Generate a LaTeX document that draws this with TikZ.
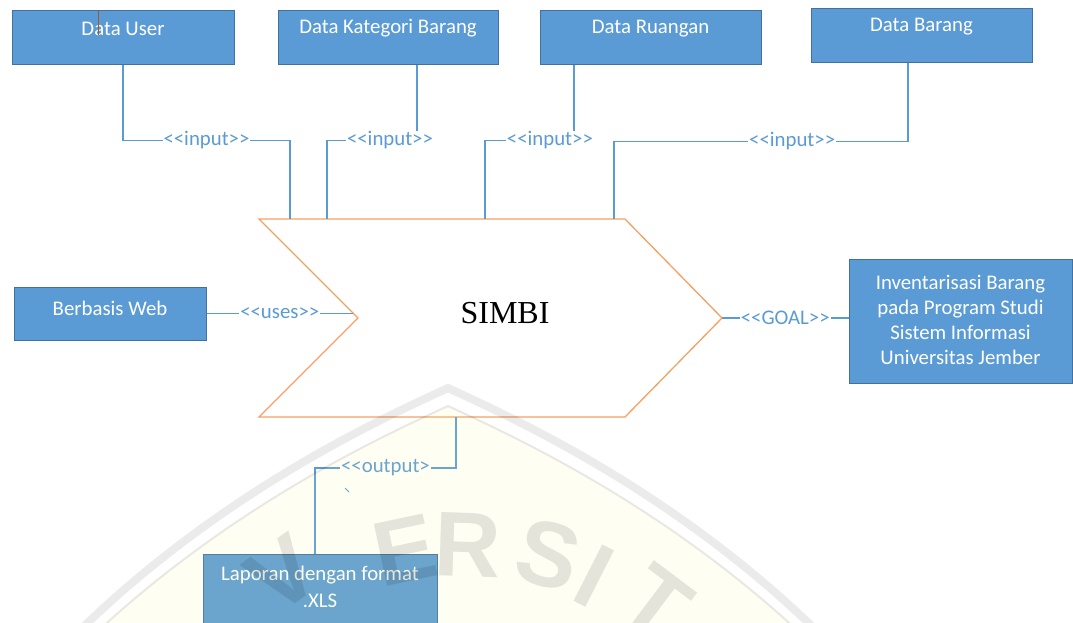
\documentclass[tikz,border=0pt]{standalone}
\usepackage{fontspec}
\setmainfont{Carlito}
\newfontfamily\titlefont{Liberation Serif}
\newfontfamily\markfont{Liberation Sans Bold}
\usetikzlibrary{calc}

\definecolor{boxfill}{HTML}{5B9BD5}
\definecolor{boxline}{HTML}{41719C}
\definecolor{linkblue}{HTML}{5B9BD5}
\definecolor{chevron}{HTML}{F4A163}
\definecolor{cursor}{HTML}{9C5A2E}

\begin{document}
\begin{tikzpicture}[x=1pt,y=-1pt,
  box/.style={draw=boxline, line width=1pt, fill=boxfill, inner sep=0pt},
  boxtext/.style={text=white, font=\fontsize{20.8}{25}\selectfont, align=center, inner sep=0pt},
  conn/.style={draw=linkblue, line width=1.2pt},
  lbl/.style={text=linkblue, fill=white, font=\fontsize{20.8}{24}\selectfont, inner sep=1pt},
  wmletter/.style={text=black, text opacity=0.1, font=\markfont\fontsize{92}{92}\selectfont, inner sep=0pt},
]
\useasboundingbox (0,0) rectangle (1073,622);
\fill[white] (0,0) rectangle (1073,622);

% ---- input boxes along the top ----
\node[box, minimum width=222pt, minimum height=54pt] (du) at (123,37) {};
\node[boxtext] (duT) at ($(du.north)+(0,19)$) {Data User};
\node[box, minimum width=220pt, minimum height=54pt] (dk) at (388,37) {};
\node[boxtext] (dkT) at ($(dk.north)+(0,19)$) {Data Kategori Barang};
\node[box, minimum width=221pt, minimum height=54pt] (dr) at (650.5,37) {};
\node[boxtext] (drT) at ($(dr.north)+(0,19)$) {Data Ruangan};
\node[box, minimum width=221pt, minimum height=54pt] (db) at (921.5,35) {};
\node[boxtext] (dbT) at ($(db.north)+(0,19)$) {Data Barang};

% text cursor left in the first box
\draw[cursor, line width=0.8pt] (98,11) -- (98,35);

% ---- side and bottom boxes ----
\node[box, minimum width=192pt, minimum height=53pt] (bw) at (110,313.5) {};
\node[boxtext] (bwT) at ($(bw.center)+(0,-5)$) {Berbasis Web};
\node[box, minimum width=223pt, minimum height=124pt] (gb) at (960.5,321) {};
\node[boxtext] (gbT) at ($(gb.center)+(0,-1.5)$) {Inventarisasi Barang\\pada Program Studi\\Sistem Informasi\\Universitas Jember};
\node[box, minimum width=234pt, minimum height=92pt] (lp) at (320,600) {};
\node[boxtext, font=\fontsize{20.8}{27}\selectfont] (lpT) at (320,586.5) {Laporan dengan format\\.XLS};

% ---- the SIMBI chevron ----
\coordinate (cTL) at (259,219);
\coordinate (cTR) at (625,219);
\coordinate (tip) at (722,318);
\coordinate (cBR) at (625,417);
\coordinate (cBL) at (259,417);
\coordinate (notch) at (358,318);
\draw[chevron, line width=1.3pt, fill=white] (cTL) -- (cTR) -- (tip) -- (cBR) -- (cBL) -- (notch) -- cycle;
\node[font=\titlefont\fontsize{32}{32}\selectfont, inner sep=0pt] (simbi) at (505,313) {SIMBI};

% connector ends on the chevron
\coordinate (inA) at (290,219);
\coordinate (inB) at (327,219);
\coordinate (inC) at (485,219);
\coordinate (inD) at (614,219);
\coordinate (uEnd) at (353,313.5);
\coordinate (outA) at (456,417);

% ---- connectors ----
\draw[conn] (du.south) -- ++(0,76) -| node[lbl, pos=0.25] {<{}<input>{}>} (inA);
\draw[conn] ($(dk.south)+(29,0)$) -- ++(0,76) -| node[lbl, pos=0.15] {<{}<input>{}>} (inB);
\draw[conn] ($(dr.south)+(-76.5,0)$) -- ++(0,76) -| node[lbl, pos=0.135] {<{}<input>{}>} (inC);
\draw[conn] ($(db.south)+(-13.5,0)$) -- ++(0,79) -| node[lbl, pos=0.197] {<{}<input>{}>} (inD);
\draw[conn] (bw.east) -- node[lbl] {<{}<uses>{}>} (uEnd);
\draw[conn] (tip) -- node[lbl] {<{}<GOAL>{}>} (tip -| gb.west);
\draw[conn] (outA) -- ++(0,51) -| node[lbl, pos=0.25] {<{}<output>} ($(lp.north)+(-5,0)$);

% stray mark under the output label
\draw[linkblue, line width=0.8pt] (345,488) -- (349,492);

% ---- faint university seal over the page ----
\fill[yellow!45, opacity=0.1] (70,658) .. controls (220,508) and (390,433) .. (448,406)
  .. controls (506,433) and (676,508) .. (826,658) -- cycle;
\draw[black, opacity=0.08, line width=8pt] (70,640) .. controls (220,490) and (390,415) .. (448,388)
  .. controls (506,415) and (676,490) .. (826,640);
\draw[black, opacity=0.085, line width=2pt] (70,658) .. controls (220,508) and (390,433) .. (448,406)
  .. controls (506,433) and (676,508) .. (826,658);
\node[wmletter, rotate=35] (wV) at (282,574) {V};
\node[wmletter, rotate=12] (wE) at (405,550) {E};
\node[wmletter, rotate=-2] (wR) at (468,545) {R};
\node[wmletter, rotate=-15] (wS) at (548,555) {S};
\node[wmletter, rotate=-27] (wI) at (594,576) {I};
\node[wmletter, rotate=-37] (wT) at (657,602) {T};
\end{tikzpicture}
\end{document}
